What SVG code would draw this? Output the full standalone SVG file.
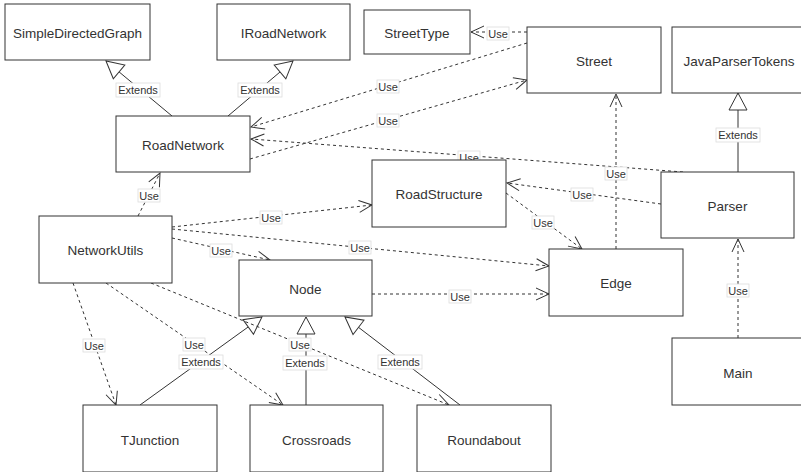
<svg xmlns="http://www.w3.org/2000/svg" width="801" height="472" viewBox="0 0 801 472">
<style>
.n rect{fill:#fff;stroke:#333;stroke-width:1}
.n text{font-family:"Liberation Sans",Arial,sans-serif;font-size:13.5px;fill:#333;text-anchor:middle}
.d{fill:none;stroke:#333;stroke-width:1;stroke-dasharray:3 3;marker-end:url(#open)}
.s{fill:none;stroke:#333;stroke-width:1;marker-end:url(#tri)}
.l rect{fill:#fff;stroke:#ddd;stroke-width:0.8}
.l text{font-family:"Liberation Sans",Arial,sans-serif;font-size:11px;fill:#333;text-anchor:middle}
</style>
<defs>
<marker id="open" viewBox="-15 -8 17 16" refX="0" refY="0" markerWidth="17" markerHeight="16" orient="auto" markerUnits="userSpaceOnUse">
<path d="M-13,-6 L0,0 L-13,6" fill="none" stroke="#333" stroke-width="1" stroke-dasharray="none"/>
</marker>
<marker id="tri" viewBox="-19 -11 21 22" refX="0" refY="0" markerWidth="21" markerHeight="22" orient="auto" markerUnits="userSpaceOnUse">
<path d="M0,0 L-17,-9 L-17,9 Z" fill="#fff" stroke="#333" stroke-width="1"/>
</marker>
</defs>
<rect width="801" height="472" fill="#fff"/>
<g id="connectors">
<path class="s" d="M172,116 L106,61"/>
<path class="s" d="M228,116 L293,61"/>
<path class="s" d="M738,172 L738,93"/>
<path class="s" d="M140,405 L262,317"/>
<path class="s" d="M306,405 L306,317"/>
<path class="s" d="M460,405 L345,317"/>
<path class="d" d="M527,32 L471,32"/>
<path class="d" d="M527,43 L251,127"/>
<path class="d" d="M250,159 L527,80"/>
<path class="d" d="M683,172 L251,139"/>
<path class="d" d="M616,249 L616,94"/>
<path class="d" d="M738,338 L738,239"/>
<path class="d" d="M661,204 L507,183"/>
<path class="d" d="M506,193 L582,249"/>
<path class="d" d="M138,216 L160,173"/>
<path class="d" d="M172,227 L372,205"/>
<path class="d" d="M172,229 L549,266"/>
<path class="d" d="M172,238 L270,260"/>
<path class="d" d="M372,294 L549,294"/>
<path class="d" d="M73,283 L116,405"/>
<path class="d" d="M106,283 L283,405"/>
<path class="d" d="M151,283 L449,405"/>
</g>
<g id="labels">
<g class="l"><rect x="116" y="83" width="44" height="14"/><text x="138" y="94">Extends</text></g>
<g class="l"><rect x="238" y="83" width="44" height="14"/><text x="260" y="94">Extends</text></g>
<g class="l"><rect x="716" y="128" width="44" height="14"/><text x="738" y="139">Extends</text></g>
<g class="l"><rect x="179" y="355" width="44" height="14"/><text x="201" y="366">Extends</text></g>
<g class="l"><rect x="283" y="356" width="44" height="14"/><text x="305" y="367">Extends</text></g>
<g class="l"><rect x="378" y="355" width="44" height="14"/><text x="400" y="366">Extends</text></g>
<g class="l"><rect x="487" y="27" width="22" height="13"/><text x="498" y="37.5">Use</text></g>
<g class="l"><rect x="377" y="80" width="22" height="13"/><text x="388" y="90.5">Use</text></g>
<g class="l"><rect x="377" y="114" width="22" height="13"/><text x="388" y="124.5">Use</text></g>
<g class="l"><rect x="458" y="151" width="22" height="13"/><text x="469" y="161.5">Use</text></g>
<g class="l"><rect x="605" y="167" width="22" height="13"/><text x="616" y="177.5">Use</text></g>
<g class="l"><rect x="571" y="188" width="22" height="13"/><text x="582" y="198.5">Use</text></g>
<g class="l"><rect x="532" y="216" width="22" height="13"/><text x="543" y="226.5">Use</text></g>
<g class="l"><rect x="138" y="189" width="22" height="13"/><text x="149" y="199.5">Use</text></g>
<g class="l"><rect x="260" y="211" width="22" height="13"/><text x="271" y="221.5">Use</text></g>
<g class="l"><rect x="349" y="241" width="22" height="13"/><text x="360" y="251.5">Use</text></g>
<g class="l"><rect x="210" y="244" width="22" height="13"/><text x="221" y="254.5">Use</text></g>
<g class="l"><rect x="449" y="290" width="22" height="13"/><text x="460" y="300.5">Use</text></g>
<g class="l"><rect x="727" y="284" width="22" height="13"/><text x="738" y="294.5">Use</text></g>
<g class="l"><rect x="83" y="339" width="22" height="13"/><text x="94" y="349.5">Use</text></g>
<g class="l"><rect x="183" y="338" width="22" height="13"/><text x="194" y="348.5">Use</text></g>
<g class="l"><rect x="289" y="338" width="22" height="13"/><text x="300" y="348.5">Use</text></g>
</g>
<g id="SimpleDirectedGraph" class="n"><rect x="5" y="4" width="145" height="56"/><text x="77.5" y="38">SimpleDirectedGraph</text></g>
<g id="IRoadNetwork" class="n"><rect x="217" y="4" width="133" height="56"/><text x="283.5" y="38">IRoadNetwork</text></g>
<g id="StreetType" class="n"><rect x="364" y="10" width="106" height="44"/><text x="417" y="38">StreetType</text></g>
<g id="Street" class="n"><rect x="527" y="27" width="134" height="66"/><text x="594" y="66">Street</text></g>
<g id="JavaParserTokens" class="n"><rect x="672" y="27" width="134" height="66"/><text x="739" y="66">JavaParserTokens</text></g>
<g id="RoadNetwork" class="n"><rect x="116" y="116" width="134" height="56"/><text x="183" y="150">RoadNetwork</text></g>
<g id="RoadStructure" class="n"><rect x="372" y="160" width="134" height="67"/><text x="439" y="199">RoadStructure</text></g>
<g id="Parser" class="n"><rect x="661" y="172" width="133" height="66"/><text x="727.5" y="211">Parser</text></g>
<g id="NetworkUtils" class="n"><rect x="39" y="216" width="133" height="67"/><text x="105.5" y="255">NetworkUtils</text></g>
<g id="Edge" class="n"><rect x="549" y="249" width="134" height="67"/><text x="616" y="288">Edge</text></g>
<g id="Node" class="n"><rect x="239" y="260" width="133" height="56"/><text x="305.5" y="294">Node</text></g>
<g id="Main" class="n"><rect x="672" y="338" width="134" height="67"/><text x="738" y="378">Main</text></g>
<g id="TJunction" class="n"><rect x="83" y="405" width="134" height="67"/><text x="150" y="445">TJunction</text></g>
<g id="Crossroads" class="n"><rect x="250" y="405" width="133" height="67"/><text x="316.5" y="445">Crossroads</text></g>
<g id="Roundabout" class="n"><rect x="417" y="405" width="134" height="67"/><text x="484" y="445">Roundabout</text></g>
</svg>
